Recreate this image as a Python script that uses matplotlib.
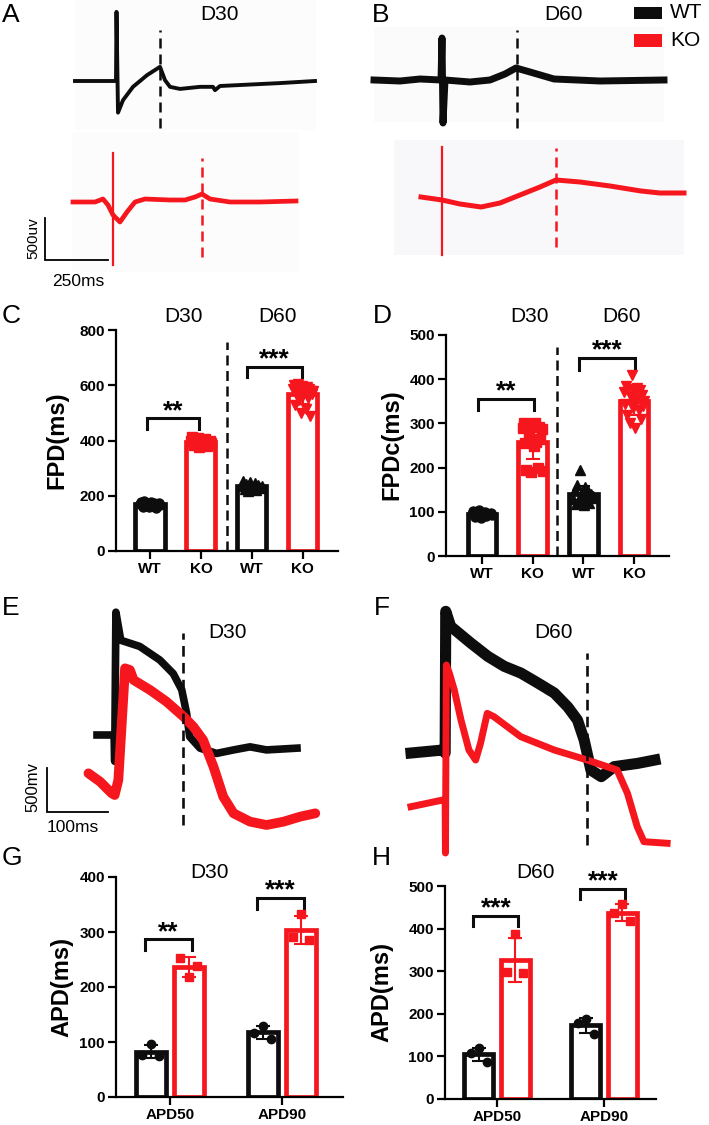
"""FP and AP traces plus FPD / APD bar panels, WT vs KO at D30 and D60."""

import matplotlib

matplotlib.use("Agg")

import matplotlib.pyplot as plt
import numpy as np
from matplotlib.patches import Rectangle

W, H = 709, 1125
RED = "#f5161e"
BLACK = "#0d0d0d"

# ---- field potential traces (time in ms, amplitude in uV from each baseline)
A_WT_T = [0, 164, 166, 172, 192, 232, 288, 340, 360, 380, 420, 500, 552, 560, 580, 820, 960]
A_WT_V = [0, 0, 830, -380, -230, -70, 70, 170, 10, -70, -95, -70, -70, -110, -60, -25, 0]
A_KO_T = [-8, 80, 112, 132, 152, 180, 208, 240, 280, 380, 440, 480, 508, 540, 620, 740, 884]
A_KO_V = [0, 0, 36, -36, -156, -240, -120, 0, 36, 24, 24, 60, 96, 36, 0, 0, 12]
A_WT_FPD, A_KO_FPD, A_KO_SPIKE = 340, 508, 152

B_WT_T = [0, 104, 184, 268, 272, 276, 284, 384, 464, 524, 568, 624, 720, 904, 1160]
B_WT_V = [0, -12, 12, 0, 504, -516, 0, -24, 0, 72, 144, 96, 12, -12, 0]
B_KO_T = [188, 272, 344, 428, 504, 584, 664, 728, 824, 944, 1068, 1144, 1240]
B_KO_V = [0, -36, -84, -120, -72, 24, 120, 204, 180, 132, 72, 48, 48]
B_WT_FPD, B_KO_FPD, B_KO_SPIKE = 572, 728, 272

# ---- action potential traces (time in ms, mV)
E_WT_T = [0, 28, 29, 31, 39, 70, 103, 125, 139, 147, 152, 169, 196, 224, 251, 278, 328]
E_WT_V = [0, 0, -300, 1400, 1080, 1010, 855, 700, 515, 245, -20, -150, -210, -170, -135, -170, -150]
E_KO_T = [-14, 5, 24, 29, 35, 46, 54, 60, 87, 114, 142, 158, 174, 191, 207, 224, 251, 278, 306, 333, 358]
E_KO_V = [-437, -532, -664, -684, -513, 760, 741, 627, 513, 380, 209, 95, -57, -361, -703,
          -893, -988, -1026, -988, -931, -893]
E_APD = 141

F_WT_T = [0, 52, 56, 57, 65, 98, 126, 153, 180, 208, 235, 257, 273, 284, 295, 312, 333, 372, 400]
F_WT_V = [0, 34, 0, 1615, 1444, 1254, 1102, 988, 912, 798, 684, 526, 376, 148, -194, -270,
          -156, -118, -80]
F_KO_T = [0, 52, 56, 56.5, 58, 63, 71, 82, 95, 106, 114, 125, 136, 180, 235, 289, 338, 355,
          371, 382, 420]
F_KO_V = [-612, -536, -536, -1140, 1003, 908, 718, 376, 34, -80, 110, 452, 414, 186, 34, -80,
          -194, -460, -840, -1011, -1029]
F_APD = 289

# ---- FPD (panel C) and FPDc (panel D), one value per recording
FP_GROUPS = ["WT", "KO", "WT", "KO"]
FPD_WT_D30 = [170, 176, 160, 182, 165, 173, 158, 169, 178, 163, 175, 155, 168, 172, 166]
FPD_KO_D30 = [400, 412, 385, 403, 393, 408, 378, 398, 402, 388, 405, 380, 395, 397, 390]
FPD_WT_D60 = [236, 255, 225, 242, 218, 238, 250, 229, 233, 246, 222, 240, 231, 227, 235]
FPD_KO_D60 = [585, 600, 530, 592, 575, 605, 545, 590, 500, 598, 565, 582, 515, 595, 555,
              588, 490, 578, 570, 580]
FPDC_WT_D30 = [95, 102, 88, 99, 93, 104, 86, 97, 91, 100, 90, 96, 94, 98, 92]
FPDC_KO_D30 = [290, 300, 255, 195, 298, 270, 262, 190, 295, 250, 300, 258, 200, 292, 265, 288, 192]
FPDC_WT_D60 = [130, 150, 118, 160, 125, 195, 138, 145, 115, 155, 128, 148, 120, 140, 132, 135]
FPDC_KO_D60 = [370, 345, 385, 320, 378, 300, 360, 410, 335, 372, 290, 355, 380, 330, 375, 310,
               365, 340, 350]

# ---- APD50 / APD90 (panels G and H), three cells each
APD_GROUPS = ["APD50", "APD90"]
APD_D30_WT = [[76, 96, 75], [117, 129, 106]]
APD_D30_KO = [[253, 218, 238], [291, 332, 286]]
APD_D60_WT = [[107, 119, 88], [178, 187, 153]]
APD_D60_KO = [[299, 387, 295], [437, 457, 419]]

plt.rcParams["font.family"] = ["Liberation Sans", "DejaVu Sans"]
fig = plt.figure(figsize=(W / 100, H / 100), dpi=100)


def px_axes(x0, y0, x1, y1):
    """Axes placed by pixel box (top-left origin)."""
    return fig.add_axes([x0 / W, 1 - y1 / H, (x1 - x0) / W, (y1 - y0) / H])


def ftext(x, y, s, **kw):
    fig.text(x / W, 1 - y / H, s, **kw)


def bg_box(x0, y0, x1, y1, color):
    fig.add_artist(Rectangle((x0 / W, 1 - y1 / H), (x1 - x0) / W, (y1 - y0) / H,
                             transform=fig.transFigure, color=color, lw=0, zorder=0))


def trace_axes(x0, y0, x1, y1, ms_px, amp_px, t0_px, base_px):
    ax = px_axes(x0, y0, x1, y1)
    ax.set_xlim((x0 - t0_px) * ms_px, (x1 - t0_px) * ms_px)
    ax.set_ylim((base_px - y1) * amp_px, (base_px - y0) * amp_px)
    ax.axis("off")
    return ax


def dashed(ax, x, lo, hi, color, lw=1.8):
    ax.plot([x, x], [lo, hi], color=color, lw=lw, dashes=(4, 2.4))


def scale_bar(ax, t, v, dt, dv):
    ax.plot([t, t, t + dt], [v + dv, v, v], color="black", lw=1.3, solid_joinstyle="miter")


# ---------------- A / B : field potentials
bg_box(75, 0, 316, 130, "#fcfcfc")
bg_box(72, 132, 298, 272, "#fcfcfc")
bg_box(374, 27, 664, 122, "#fbfbfb")
bg_box(394, 140, 684, 255, "#f8f8fa")

ax = trace_axes(0, 0, 354, 300, 4.0, 12.0, 75, 81)
ko_shift = -(202 - 81) * 12
ax.plot(A_WT_T, A_WT_V, color=BLACK, lw=2.8, solid_joinstyle="round")
dashed(ax, A_WT_FPD, -564, 612, BLACK)
ax.plot(A_KO_T, np.array(A_KO_V) + ko_shift, color=RED, lw=3.4, solid_joinstyle="round")
ax.plot([A_KO_SPIKE] * 2, [ko_shift - 756, ko_shift + 588], color=RED, lw=1.6)
dashed(ax, A_KO_FPD, ko_shift - 660, ko_shift + 528, RED)
scale_bar(ax, -120, -2148, 250, 500)

ax = trace_axes(354, 0, 709, 300, 4.0, 12.0, 374, 80)
ko_shift = -(197 - 80) * 12
ax.plot(B_WT_T, B_WT_V, color=BLACK, lw=5.0, solid_joinstyle="round")
dashed(ax, B_WT_FPD, -576, 600, BLACK)
ax.plot(B_KO_T, np.array(B_KO_V) + ko_shift, color=RED, lw=3.6, solid_joinstyle="round")
ax.plot([B_KO_SPIKE] * 2, [ko_shift - 696, ko_shift + 600], color=RED, lw=1.6)
dashed(ax, B_KO_FPD, ko_shift - 600, ko_shift + 588, RED)

ftext(33, 238, "500uv", rotation=90, ha="center", va="center", fontsize=11)
ftext(78, 281, "250ms", ha="center", va="center", fontsize=12.5)
ftext(219, 15, "D30", ha="center", va="center", fontsize=15)
ftext(563, 15, "D60", ha="center", va="center", fontsize=15)

# legend
fig.add_artist(Rectangle((634 / W, 1 - 19 / H), 28 / W, 12 / H, transform=fig.transFigure,
                         color=BLACK, lw=0))
fig.add_artist(Rectangle((634 / W, 1 - 47 / H), 28 / W, 13 / H, transform=fig.transFigure,
                         color=RED, lw=0))
ftext(670, 13, "WT", ha="left", va="center", fontsize=15)
ftext(670, 41, "KO", ha="left", va="center", fontsize=15)

# ---------------- E / F : action potentials
ax = trace_axes(0, 580, 354, 860, 1.64, 11.4, 97, 735)
ax.plot(E_WT_T, E_WT_V, color=BLACK, lw=5.5, solid_joinstyle="round")
ax.plot(E_KO_T, E_KO_V, color=RED, lw=7.0, solid_joinstyle="round", solid_capstyle="round")
dashed(ax, E_APD, -1026, 1163, BLACK, lw=1.9)
scale_bar(ax, -82, -878, 100, 500)

ax = trace_axes(354, 580, 709, 860, 1.64, 11.4, 411, 753)
ax.plot(F_WT_T, F_WT_V, color=BLACK, lw=8.0, solid_joinstyle="round")
ax.plot(F_KO_T, F_KO_V, color=RED, lw=5.0, solid_joinstyle="round")
dashed(ax, F_APD, -1049, 1140, BLACK, lw=1.9)

ftext(33, 787, "500mv", rotation=90, ha="center", va="center", fontsize=12)
ftext(73, 828, "100ms", ha="center", va="center", fontsize=12.5)
ftext(228, 633, "D30", ha="center", va="center", fontsize=15)
ftext(553, 633, "D60", ha="center", va="center", fontsize=15)


# ---------------- bar panels
def style_bar_axes(ax, ylim, yticks, xlim, xticks, xlabels):
    for side in ("top", "right"):
        ax.spines[side].set_visible(False)
    for side in ("left", "bottom"):
        ax.spines[side].set_linewidth(1.6)
    ax.set_facecolor("none")
    ax.set_ylim(*ylim)
    ax.set_yticks(yticks)
    ax.set_xlim(*xlim)
    ax.set_xticks(xticks)
    ax.set_xticklabels(xlabels)
    ax.tick_params(width=1.6, length=6, labelsize=11, pad=2)
    for lab in ax.get_xticklabels() + ax.get_yticklabels():
        lab.set_fontweight("bold")


def bar_with_points(ax, x, vals, color, marker, width, ms, spread):
    vals = np.asarray(vals, dtype=float)
    mean, sd = vals.mean(), vals.std(ddof=1)
    ax.bar(x, mean, width, facecolor="white", edgecolor=color, linewidth=3.4, zorder=2)
    xs = x + np.linspace(-spread, spread, len(vals))
    ax.plot(xs, vals, linestyle="none", marker=marker, color=color, ms=ms, zorder=3)
    ax.errorbar(x, mean, yerr=sd, fmt="none", ecolor=color, elinewidth=1.5, capsize=5,
                capthick=1.5, zorder=4)


def bracket(ax, x1, x2, lo, hi, stars, ty, size=19):
    ax.plot([x1, x1, x2, x2], [lo, hi, hi, lo], color=BLACK, lw=2.2, clip_on=False,
            solid_joinstyle="miter")
    ax.text((x1 + x2) / 2, ty, stars, ha="center", va="center", fontsize=size,
            fontweight="bold", clip_on=False)


colors4 = [BLACK, RED, BLACK, RED]

# C
ax = px_axes(116, 330, 338, 551)
for i, (vals, m) in enumerate(zip([FPD_WT_D30, FPD_KO_D30, FPD_WT_D60, FPD_KO_D60],
                                  ["o", "s", "^", "v"])):
    bar_with_points(ax, i, vals, colors4[i], m, 0.57, 6.5, 0.2)
style_bar_axes(ax, (0, 800), [0, 200, 400, 600, 800], (-0.667, 3.69), range(4), FP_GROUPS)
ax.plot([1.51, 1.51], [0, 757], color=BLACK, lw=1.8, dashes=(4, 2.2), clip_on=False)
bracket(ax, -0.05, 0.97, 440, 480, "**", 505)
bracket(ax, 1.9, 2.98, 630, 666, "***", 695)

# D
ax = px_axes(446, 335, 669, 556)
for i, (vals, m) in enumerate(zip([FPDC_WT_D30, FPDC_KO_D30, FPDC_WT_D60, FPDC_KO_D60],
                                  ["o", "s", "^", "v"])):
    bar_with_points(ax, i, vals, colors4[i], m, 0.56, 6.5, 0.2)
style_bar_axes(ax, (0, 500), [0, 100, 200, 300, 400, 500], (-0.71, 3.69), range(4), FP_GROUPS)
ax.plot([1.48, 1.48], [0, 473], color=BLACK, lw=1.8, dashes=(4, 2.2), clip_on=False)
bracket(ax, -0.08, 1.02, 330, 355, "**", 372)
bracket(ax, 1.92, 3.02, 421, 448, "***", 465)


def apd_panel(box, wt, ko, ylim, yticks, xlim, brackets):
    ax = px_axes(*box)
    for g in range(len(APD_GROUPS)):
        bar_with_points(ax, g - 0.17, wt[g], BLACK, "o", 0.27, 6, 0.075)
        bar_with_points(ax, g + 0.17, ko[g], RED, "s", 0.27, 6, 0.075)
    style_bar_axes(ax, ylim, yticks, xlim, range(len(APD_GROUPS)), APD_GROUPS)
    for g, (lo, hi, stars, ty) in enumerate(brackets):
        bracket(ax, g - 0.22, g + 0.2, lo, hi, stars, ty)
    return ax


apd_panel((116, 877, 343, 1097), APD_D30_WT, APD_D30_KO, (0, 400), [0, 100, 200, 300, 400],
          (-0.48, 1.545), [(267, 287, "**", 300), (342, 362, "***", 376)])
apd_panel((445, 886, 656, 1099), APD_D60_WT, APD_D60_KO, (0, 500), [0, 100, 200, 300, 400, 500],
          (-0.486, 1.486), [(406, 430, "***", 448), (469, 493, "***", 512)])

# axis labels and titles
for x, y, s in [(57, 440, "FPD(ms)"), (392, 445, "FPDc(ms)"), (62, 987, "APD(ms)"),
                (382, 992, "APD(ms)")]:
    ftext(x, y, s, rotation=90, ha="center", va="center", fontsize=17, fontweight="bold")
for x, y, s in [(183, 317, "D30"), (278, 317, "D60"), (529, 317, "D30"), (622, 317, "D60"),
                (209, 872, "D30"), (536, 873, "D60")]:
    ftext(x, y, s, ha="center", va="center", fontsize=15)

# panel letters
for x, y, s in [(2, 15, "A"), (372, 15, "B"), (2, 316, "C"), (373, 316, "D"), (2, 608, "E"),
                (374, 608, "F"), (2, 858, "G"), (372, 858, "H")]:
    ftext(x, y, s, ha="left", va="center", fontsize=19)

fig.savefig("out.png", dpi=100)
